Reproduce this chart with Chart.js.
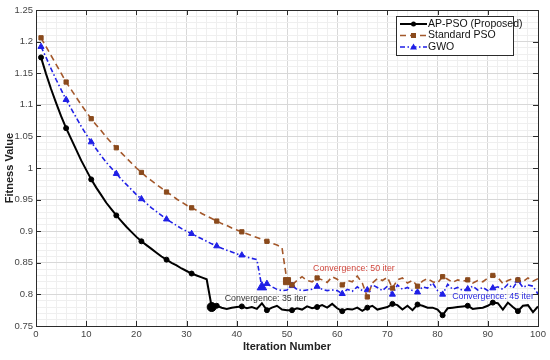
<!DOCTYPE html>
<html>
<head>
<meta charset="utf-8">
<script src="https://cdn.jsdelivr.net/npm/chart.js@4.4.1/dist/chart.umd.min.js"></script>
<style>
html,body{margin:0;padding:0;background:#fff;}
</style>
</head>
<body>
<canvas id="chart" width="550" height="360"></canvas>
<script>
// iteration numbers 1..100
let iterations = [];
for(let i = 1; i <= 100; i++) iterations.push(i);

let apPso = [
1.175,1.149,1.125,1.103,1.082,1.063,1.046,1.029,1.012,0.997,
0.982,0.969,0.957,0.945,0.935,0.925,0.916,0.907,0.899,0.891,
0.884,0.878,0.872,0.866,0.860,0.855,0.850,0.846,0.841,0.837,
0.833,0.830,0.827,0.824,0.780,0.782,0.779,0.777,0.779,0.780,
0.781,0.778,0.780,0.777,0.786,0.775,0.779,0.782,0.776,0.775,
0.775,0.778,0.776,0.781,0.778,0.780,0.783,0.779,0.785,0.778,
0.7735,0.777,0.776,0.779,0.774,0.779,0.782,0.776,0.778,0.780,
0.785,0.783,0.776,0.782,0.775,0.784,0.782,0.779,0.779,0.776,
0.767,0.778,0.779,0.780,0.781,0.782,0.777,0.778,0.779,0.782,
0.787,0.786,0.776,0.787,0.780,0.7735,0.782,0.783,0.772,0.781
];

let standardPso = [
1.206,1.192,1.178,1.164,1.150,1.136,1.124,1.112,1.100,1.089,
1.078,1.068,1.059,1.049,1.040,1.032,1.024,1.016,1.008,1.000,
0.993,0.986,0.980,0.974,0.968,0.962,0.957,0.951,0.946,0.941,
0.937,0.933,0.928,0.924,0.920,0.916,0.912,0.909,0.905,0.902,
0.899,0.896,0.893,0.890,0.887,0.884,0.881,0.878,0.874,0.821,
0.815,0.822,0.828,0.822,0.820,0.826,0.823,0.819,0.828,0.824,
0.815,0.822,0.820,0.829,0.818,0.796,0.818,0.825,0.822,0.827,
0.810,0.823,0.826,0.818,0.822,0.813,0.821,0.825,0.820,0.818,
0.828,0.824,0.819,0.823,0.821,0.823,0.818,0.822,0.820,0.826,
0.830,0.827,0.817,0.822,0.825,0.823,0.820,0.826,0.821,0.825
];

let gwo = [
1.192,1.175,1.157,1.140,1.124,1.108,1.094,1.080,1.066,1.053,
1.041,1.030,1.019,1.009,1.000,0.991,0.982,0.974,0.966,0.958,
0.951,0.944,0.937,0.931,0.925,0.919,0.914,0.909,0.904,0.900,
0.896,0.892,0.888,0.884,0.880,0.8765,0.873,0.870,0.867,0.864,
0.862,0.859,0.857,0.855,0.8115,0.817,0.812,0.808,0.806,0.807,
0.814,0.808,0.806,0.807,0.808,0.8125,0.808,0.806,0.807,0.806,
0.801,0.808,0.805,0.812,0.806,0.807,0.815,0.811,0.806,0.813,
0.800,0.815,0.808,0.811,0.806,0.8035,0.812,0.810,0.818,0.806,
0.800,0.816,0.808,0.811,0.806,0.8085,0.813,0.807,0.811,0.806,
0.810,0.812,0.808,0.816,0.810,0.822,0.811,0.815,0.813,0.8005
];

let seriesNames = ["AP-PSO (Proposed)","Standard PSO","GWO"];
let convIters = [35,50,45];
let convTexts = ["Convergence: 35 iter","Convergence: 50 iter","Convergence: 45 iter"];

let xTicks = [0,10,20,30,40,50,60,70,80,90,100];
let yTicks = [0.75,0.8,0.85,0.9,0.95,1,1.05,1.1,1.15,1.2,1.25];

function toPoints(vals){
return vals.map((v,i) => ({x: iterations[i], y: v}));
}

function markerSize(conv, small, big){
return function(ctx){
let it = iterations[ctx.dataIndex];
if(it === conv) return big;
return (it - 1) % 5 === 0 ? small : 0;
};
}

const fontName = "'Liberation Sans', Arial, sans-serif";

// convergence labels, placed in data coordinates
const notes = [
{text: convTexts[0], x: 37.6, y: 0.7935, color: "#333333"},
{text: convTexts[1], x: 55.2, y: 0.841, color: "#d0463c"},
{text: convTexts[2], x: 82.9, y: 0.797, color: "#2b2be0"}
];

const framePlugin = {
id: "frame",
afterDatasetsDraw(chart){
let c = chart.ctx;
let a = chart.chartArea;
let xs = chart.scales.x, ys = chart.scales.y;

// annotations
c.save();
c.font = "8.8px " + fontName;
c.textBaseline = "middle";
c.textAlign = "left";
notes.forEach(n => {
c.fillStyle = n.color;
c.fillText(n.text, xs.getPixelForValue(n.x), ys.getPixelForValue(n.y));
});
c.restore();

// box and inward ticks
c.save();
c.strokeStyle = "#2b2b2b";
c.lineWidth = 1;
c.strokeRect(Math.round(a.left)+0.5, Math.round(a.top)+0.5, Math.round(a.right-a.left), Math.round(a.bottom-a.top));
c.beginPath();
xTicks.forEach(t => {
let px = Math.round(xs.getPixelForValue(t)) + 0.5;
c.moveTo(px, a.bottom); c.lineTo(px, a.bottom - 5);
c.moveTo(px, a.top); c.lineTo(px, a.top + 5);
});
yTicks.forEach(t => {
let py = Math.round(ys.getPixelForValue(t)) + 0.5;
c.moveTo(a.left, py); c.lineTo(a.left + 5, py);
c.moveTo(a.right, py); c.lineTo(a.right - 5, py);
});
c.stroke();
c.restore();

// legend
let ds = chart.data.datasets;
let bx = a.right - 142, by = a.top + 6, bw = 117, bh = 39;
c.save();
c.fillStyle = "#fff";
c.fillRect(bx, by, bw, bh);
c.strokeStyle = "#2b2b2b";
c.lineWidth = 1;
c.strokeRect(bx + 0.5, by + 0.5, bw, bh);
c.font = "10.5px " + fontName;
c.textBaseline = "middle";
ds.forEach((d, i) => {
let ly = by + 8 + i * 11.5;
c.strokeStyle = d.borderColor;
c.lineWidth = d.borderWidth;
c.setLineDash(d.borderDash || []);
c.beginPath();
c.moveTo(bx + 4, ly); c.lineTo(bx + 31, ly);
c.stroke();
c.setLineDash([]);
c.fillStyle = d.pointBackgroundColor;
let mx = bx + 17.5;
c.beginPath();
if(d.pointStyle === "rect"){
c.rect(mx - 2.5, ly - 2.5, 5, 5);
} else if(d.pointStyle === "triangle"){
c.moveTo(mx, ly - 3.5); c.lineTo(mx + 3.5, ly + 2.5); c.lineTo(mx - 3.5, ly + 2.5); c.closePath();
} else {
c.arc(mx, ly, 2.5, 0, Math.PI * 2);
}
c.fill();
c.fillStyle = "#111";
c.fillText(seriesNames[i], bx + 32, ly);
});
c.restore();
}
};

function isMultiple(v, step){
return Math.abs(v / step - Math.round(v / step)) < 1e-6;
}

new Chart(document.getElementById("chart"), {
type: "line",
data: {
datasets: [{
label: seriesNames[0],
data: toPoints(apPso),
borderColor: "#000000",
borderWidth: 2,
pointStyle: "circle",
pointBackgroundColor: "#000000",
pointBorderColor: "#000000",
pointBorderWidth: 1,
pointRadius: markerSize(convIters[0], 2.5, 4.5),
tension: 0
},{
label: seriesNames[1],
data: toPoints(standardPso),
borderColor: "#a3582b",
borderWidth: 1.6,
borderDash: [6,4],
pointStyle: "rect",
pointBackgroundColor: "#8a4a1c",
pointBorderColor: "#8a4a1c",
pointBorderWidth: 1,
pointRadius: markerSize(convIters[1], 3, 5),
tension: 0
},{
label: seriesNames[2],
data: toPoints(gwo),
borderColor: "#1f1fe6",
borderWidth: 1.6,
borderDash: [5,2.5,1.5,2.5],
pointStyle: "triangle",
pointBackgroundColor: "#1f1fe6",
pointBorderColor: "#1f1fe6",
pointBorderWidth: 1,
pointRadius: markerSize(convIters[2], 3.5, 5.5),
tension: 0
}]
},
options: {
responsive: false,
animation: false,
devicePixelRatio: 1,
layout: {padding: {top: 10, right: 12, left: 0, bottom: 0}},
plugins: {
legend: {display: false},
tooltip: {enabled: false}
},
scales: {
x: {
type: "linear",
min: 0,
max: 100,
afterFit(scale){ scale.height = 34; },
afterBuildTicks(scale){
let t = [];
for(let v = 0; v <= 100; v += 2) t.push({value: v});
scale.ticks = t;
},
ticks: {
autoSkip: false,
maxRotation: 0,
padding: 3,
color: "#444",
font: {family: fontName, size: 9.5},
callback: v => isMultiple(v, 10) ? String(v) : ""
},
grid: {
drawTicks: false,
color: ctx => isMultiple(ctx.tick.value, 10) ? "#d8d8d8" : "#efefef"
},
border: {display: false},
title: {
display: true,
text: "Iteration Number",
color: "#222",
font: {family: fontName, size: 11, weight: "bold"},
padding: {top: 0, bottom: 6}
}
},
y: {
type: "linear",
min: 0.75,
max: 1.25,
afterFit(scale){ scale.width = 36; },
afterBuildTicks(scale){
let t = [];
for(let k = 75; k <= 125; k += 1) t.push({value: k / 100});
scale.ticks = t;
},
ticks: {
autoSkip: false,
padding: 3,
color: "#444",
font: {family: fontName, size: 9.5},
callback: v => isMultiple(v, 0.05) ? String(Math.round(v * 100) / 100) : ""
},
grid: {
drawTicks: false,
color: ctx => isMultiple(ctx.tick.value, 0.05) ? "#d8d8d8" : "#efefef"
},
border: {display: false},
title: {
display: true,
text: "Fitness Value",
color: "#222",
font: {family: fontName, size: 11, weight: "bold"},
padding: {top: 3, bottom: 0}
}
}
}
},
plugins: [framePlugin]
});
</script>
</body>
</html>
